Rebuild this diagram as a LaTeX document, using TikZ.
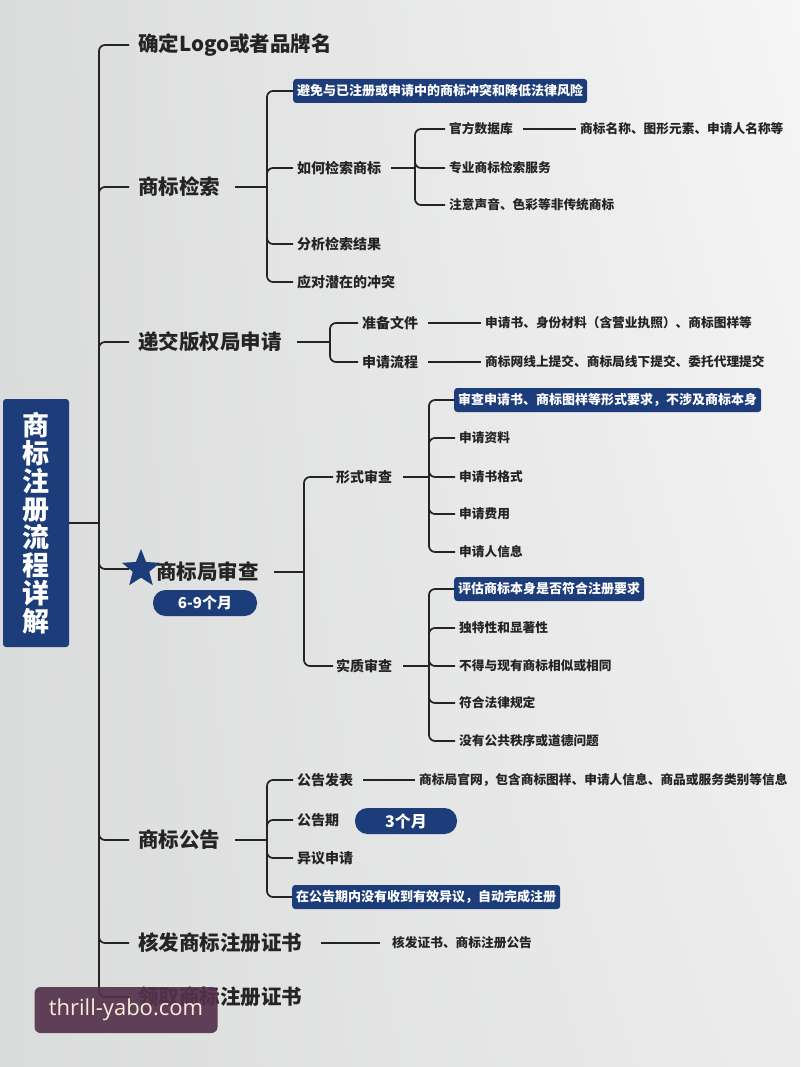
\documentclass[tikz,border=0pt]{standalone}
\usepackage{fontspec}
\setmainfont{Noto Sans CJK SC}
\newfontfamily\wmfont{Open Sans}
\usepackage{tikz}
\usetikzlibrary{positioning,shapes.geometric,shadings}
\definecolor{navy}{RGB}{29,60,122}
\definecolor{inkcol}{RGB}{36,36,36}
\definecolor{bgleft}{RGB}{218,219,219}
\definecolor{bgmid}{RGB}{236,236,237}
\definecolor{bgright}{RGB}{246,246,247}
\definecolor{wmcol}{RGB}{84,50,76}
\definecolor{wmtext}{RGB}{250,236,218}
\tikzset{
    topicnode/.style={anchor=west, inner xsep=9pt, inner ysep=2pt, text=inkcol, font=\fontsize{20.5}{24}\selectfont\bfseries},
    subnode/.style={anchor=west, inner xsep=4pt, inner ysep=2pt, text=inkcol, font=\fontsize{14}{17}\selectfont\bfseries},
    leafnode/.style={anchor=west, inner xsep=4pt, inner ysep=2pt, text=inkcol, font=\fontsize{12.7}{15}\selectfont\bfseries},
    notenode/.style={anchor=west, rectangle, rounded corners=3pt, fill=navy, text=white, inner xsep=4pt, minimum height=24pt, font=\fontsize{13}{15}\selectfont\bfseries},
    pillnode/.style={rectangle, rounded corners=12.5pt, fill=navy, text=white, minimum width=104pt, minimum height=26pt, font=\fontsize{15}{17}\selectfont\bfseries},
    titlenode/.style={rectangle, rounded corners=3pt, fill=navy, text=white, align=center, minimum width=66pt, minimum height=248pt, inner sep=0pt, font=\fontsize{27}{28}\selectfont\bfseries},
    myline/.style={draw=inkcol, line width=1.7pt, rounded corners=6pt},
}

\begin{document}
\begin{tikzpicture}[x=1pt, y=-1pt]
\useasboundingbox (0,0) rectangle (800,1067);
\shade[upper left=bgleft, lower left=bgleft, upper right=bgright, lower right=bgmid] (0,0) rectangle (800,1067);

% title and main topics
\node[titlenode] (title) at (36,523) {商\\标\\注\\册\\流\\程\\详\\解};
\coordinate (trunk) at (99,523);

\node[topicnode] (logo) at (129,45) {确定Logo或者品牌名};
\node[topicnode] (search) at (129,187) {商标检索};
\node[topicnode] (submit) at (129,342) {递交版权局申请};
\node[star, star points=5, star point ratio=2.3, fill=navy, minimum size=40pt, inner sep=0pt] (star) at (141,569) {};
\node[topicnode, inner xsep=3pt] (exam) at (153,572) {商标局审查};
\node[pillnode] (months69) at (205,603) {6-9个月};
\node[topicnode] (notice) at (129,840) {商标公告};
\node[topicnode] (issue) at (129,943) {核发商标注册证书};
\node[topicnode] (collect) at (129,997) {领取商标注册证书};

\draw[myline] (title.east) -- (trunk);
\foreach \t in {logo,search,submit,star,notice,issue,collect}
    \draw[myline] (trunk) |- (\t.west);

% trademark search
\coordinate (searchJ) at (267,187);
\node[notenode] (avoid) at (293,91) {避免与已注册或申请中的商标冲突和降低法律风险};
\node[subnode] (how) at (293,168) {如何检索商标};
\node[subnode] (analyse) at (293,244) {分析检索结果};
\node[subnode] (respond) at (293,282) {应对潜在的冲突};
\draw[myline, shorten <=6pt] (search.east) -- (searchJ);
\foreach \c in {avoid,how,analyse,respond}
    \draw[myline] (searchJ) |- (\c.west);

\coordinate (howJ) at (415,168);
\node[leafnode] (official) at (445,129) {官方数据库};
\node[leafnode] (pro) at (445,168) {专业商标检索服务};
\node[leafnode] (nontrad) at (445,205) {注意声音、色彩等非传统商标};
\node[leafnode] (officialD) at (576,129) {商标名称、图形元素、申请人名称等};
\draw[myline, shorten <=6pt] (how.east) -- (howJ);
\foreach \c in {official,pro,nontrad}
    \draw[myline] (howJ) |- (\c.west);
\draw[myline, shorten <=6pt] (official.east) -- (officialD.west);

% filing
\coordinate (submitJ) at (330,342);
\node[subnode] (prep) at (358,323) {准备文件};
\node[subnode] (process) at (358,362) {申请流程};
\node[leafnode] (prepD) at (481,323) {申请书、身份材料（含营业执照）、商标图样等};
\node[leafnode] (processD) at (481,362) {商标网线上提交、商标局线下提交、委托代理提交};
\draw[myline, shorten <=6pt] (submit.east) -- (submitJ);
\foreach \c in {prep,process}
    \draw[myline] (submitJ) |- (\c.west);
\draw[myline, shorten <=6pt] (prep.east) -- (prepD.west);
\draw[myline, shorten <=6pt] (process.east) -- (processD.west);

% examination
\coordinate (examJ) at (304,572);
\node[subnode, inner xsep=3pt] (formal) at (333,477) {形式审查};
\node[subnode, inner xsep=3pt] (subst) at (333,666) {实质审查};
\draw[myline, shorten <=12pt] (exam.east) -- (examJ);
\foreach \c in {formal,subst}
    \draw[myline] (examJ) |- (\c.west);

\coordinate (formalJ) at (429,477);
\node[notenode] (formalNote) at (454,400) {审查申请书、商标图样等形式要求，不涉及商标本身};
\node[leafnode] (fData) at (455,438) {申请资料};
\node[leafnode] (fFormat) at (455,477) {申请书格式};
\node[leafnode] (fFee) at (455,514) {申请费用};
\node[leafnode] (fInfo) at (455,552) {申请人信息};
\draw[myline, shorten <=8pt] (formal.east) -- (formalJ);
\foreach \c in {formalNote,fData,fFormat,fFee,fInfo}
    \draw[myline] (formalJ) |- (\c.west);

\coordinate (substJ) at (429,666);
\node[notenode] (substNote) at (454,589) {评估商标本身是否符合注册要求};
\node[leafnode] (sUnique) at (455,628) {独特性和显著性};
\node[leafnode] (sSimilar) at (455,666) {不得与现有商标相似或相同};
\node[leafnode] (sLaw) at (455,703) {符合法律规定};
\node[leafnode] (sMoral) at (455,741) {没有公共秩序或道德问题};
\draw[myline, shorten <=8pt] (subst.east) -- (substJ);
\foreach \c in {substNote,sUnique,sSimilar,sLaw,sMoral}
    \draw[myline] (substJ) |- (\c.west);

% publication
\coordinate (noticeJ) at (267,840);
\node[subnode] (publish) at (293,780) {公告发表};
\node[subnode] (period) at (293,820) {公告期};
\node[pillnode, minimum width=102pt, font=\fontsize{16}{18}\selectfont\bfseries] (months3) at (406,821) {3个月};
\node[subnode] (oppose) at (293,858) {异议申请};
\node[notenode] (noticeNote) at (292,897) {在公告期内没有收到有效异议，自动完成注册};
\node[leafnode] (publishD) at (415,780) {商标局官网，包含商标图样、申请人信息、商品或服务类别等信息};
\draw[myline, shorten <=6pt] (notice.east) -- (noticeJ);
\foreach \c in {publish,period,oppose,noticeNote}
    \draw[myline] (noticeJ) |- (\c.west);
\draw[myline, shorten <=6pt] (publish.east) -- (publishD.west);

% certificate
\node[leafnode] (issueD) at (388,943) {核发证书、商标注册公告};
\draw[myline, shorten <=10pt, shorten >=8pt] (issue.east) -- (issueD.west);

% watermark
\node[rectangle, rounded corners=6pt, fill=wmcol, fill opacity=0.92, text opacity=1, text=wmtext, minimum width=183pt, minimum height=46pt, font=\wmfont\fontsize{22}{24}\selectfont] (wmark) at (126,1010) {thrill-yabo.com};
\end{tikzpicture}
\end{document}
